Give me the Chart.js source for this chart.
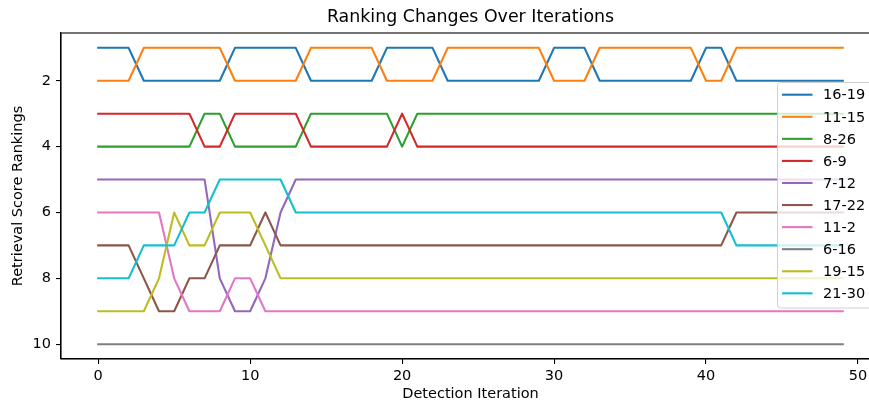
<!DOCTYPE html>
<html>
<head>
<meta charset="utf-8">
<title>Ranking Changes Over Iterations</title>
<script src="https://cdn.jsdelivr.net/npm/chart.js@4.4.0/dist/chart.umd.min.js"></script>
<style>
  html, body { margin: 0; padding: 0; background: #fff; overflow: hidden; }
  canvas { display: block; }
</style>
</head>
<body>
<canvas id="chart" width="941" height="402"></canvas>
<script>
// Detection iterations (x axis)
const iterations = [0,1,2,3,4,5,6,7,8,9,10,11,12,13,14,15,16,17,18,19,20,21,22,23,24,25,26,27,28,29,30,31,32,33,34,35,36,37,38,39,40,41,42,43,44,45,46,47,48,49];

// Pair labels
const pairLabels = ['16-19', '11-15', '8-26', '6-9', '7-12', '17-22', '11-2', '6-16', '19-15', '21-30'];

// Ranking of each pair at every iteration
const rank_16_19 = [1,1,1,2,2,2,2,2,2,1,1,1,1,1,2,2,2,2,2,1,1,1,1,2,2,2,2,2,2,2,1,1,1,2,2,2,2,2,2,2,1,1,2,2,2,2,2,2,2,2];
const rank_11_15 = [2,2,2,1,1,1,1,1,1,2,2,2,2,2,1,1,1,1,1,2,2,2,2,1,1,1,1,1,1,1,2,2,2,1,1,1,1,1,1,1,2,2,1,1,1,1,1,1,1,1];
const rank_8_26  = [4,4,4,4,4,4,4,3,3,4,4,4,4,4,3,3,3,3,3,3,4,3,3,3,3,3,3,3,3,3,3,3,3,3,3,3,3,3,3,3,3,3,3,3,3,3,3,3,3,3];
const rank_6_9   = [3,3,3,3,3,3,3,4,4,3,3,3,3,3,4,4,4,4,4,4,3,4,4,4,4,4,4,4,4,4,4,4,4,4,4,4,4,4,4,4,4,4,4,4,4,4,4,4,4,4];
const rank_7_12  = [5,5,5,5,5,5,5,5,8,9,9,8,6,5,5,5,5,5,5,5,5,5,5,5,5,5,5,5,5,5,5,5,5,5,5,5,5,5,5,5,5,5,5,5,5,5,5,5,5,5];
const rank_17_22 = [7,7,7,8,9,9,8,8,7,7,7,6,7,7,7,7,7,7,7,7,7,7,7,7,7,7,7,7,7,7,7,7,7,7,7,7,7,7,7,7,7,7,6,6,6,6,6,6,6,6];
const rank_11_2  = [6,6,6,6,6,8,9,9,9,8,8,9,9,9,9,9,9,9,9,9,9,9,9,9,9,9,9,9,9,9,9,9,9,9,9,9,9,9,9,9,9,9,9,9,9,9,9,9,9,9];
const rank_6_16  = [10,10,10,10,10,10,10,10,10,10,10,10,10,10,10,10,10,10,10,10,10,10,10,10,10,10,10,10,10,10,10,10,10,10,10,10,10,10,10,10,10,10,10,10,10,10,10,10,10,10];
const rank_19_15 = [9,9,9,9,8,6,7,7,6,6,6,7,8,8,8,8,8,8,8,8,8,8,8,8,8,8,8,8,8,8,8,8,8,8,8,8,8,8,8,8,8,8,8,8,8,8,8,8,8,8];
const rank_21_30 = [8,8,8,7,7,7,6,6,5,5,5,5,5,6,6,6,6,6,6,6,6,6,6,6,6,6,6,6,6,6,6,6,6,6,6,6,6,6,6,6,6,6,7,7,7,7,7,7,7,7];

const rankSeries = [rank_16_19, rank_11_15, rank_8_26, rank_6_9, rank_7_12, rank_17_22, rank_11_2, rank_6_16, rank_19_15, rank_21_30];

// Axis tick values
const xTicks = [0, 10, 20, 30, 40, 50];
const yTicks = [2, 4, 6, 8, 10];

const chartTitle = 'Ranking Changes Over Iterations';

const palette = ['#1f77b4', '#ff7f0e', '#2ca02c', '#d62728', '#9467bd', '#8c564b', '#e377c2', '#7f7f7f', '#bcbd22', '#17becf'];

const FONT = 'DejaVu Sans';
const TEXT_SIZE = 14.5;
const TITLE_SIZE = 17.4;
Chart.defaults.font.family = FONT;
Chart.defaults.color = '#000';

const datasets = rankSeries.map((series, i) => ({
  label: pairLabels[i],
  data: series.map((r, k) => ({ x: iterations[k], y: r })),
  borderColor: palette[i],
  backgroundColor: palette[i],
  borderWidth: 2.1,
  pointRadius: 0,
  pointHoverRadius: 0,
  tension: 0,
  fill: false,
  borderJoinStyle: 'round',
  borderCapStyle: 'square',
  order: rankSeries.length - i   // later series drawn on top
}));

// Frame around the plotting area, plus a title centred over it
const framePlugin = {
  id: 'frame',
  afterDatasetsDraw(chart) {
    const { ctx, chartArea: a } = chart;
    ctx.save();
    ctx.strokeStyle = '#000';
    ctx.lineWidth = 1.1;
    ctx.strokeRect(a.left, a.top, a.right - a.left, a.bottom - a.top);
    ctx.font = TITLE_SIZE + 'px "' + FONT + '"';
    ctx.fillStyle = '#000';
    ctx.textAlign = 'center';
    ctx.textBaseline = 'middle';
    ctx.fillText(chartTitle, (a.left + a.right) / 2, 17.5);
    ctx.restore();
  }
};

// Boxed legend placed inside the plot on the right
const boxLegendPlugin = {
  id: 'boxLegend',
  afterDraw(chart) {
    const { ctx } = chart;
    const ds = chart.data.datasets;
    const left = 777.5, top = 82.5, width = 96, rowH = 22.07;
    const height = 225.5;
    ctx.save();
    ctx.beginPath();
    const r = 3;
    ctx.moveTo(left + r, top);
    ctx.lineTo(left + width - r, top);
    ctx.arcTo(left + width, top, left + width, top + r, r);
    ctx.lineTo(left + width, top + height - r);
    ctx.arcTo(left + width, top + height, left + width - r, top + height, r);
    ctx.lineTo(left + r, top + height);
    ctx.arcTo(left, top + height, left, top + height - r, r);
    ctx.lineTo(left, top + r);
    ctx.arcTo(left, top, left + r, top, r);
    ctx.closePath();
    ctx.fillStyle = 'rgba(255,255,255,0.8)';
    ctx.fill();
    ctx.strokeStyle = 'rgba(204,204,204,0.9)';
    ctx.lineWidth = 1;
    ctx.stroke();

    ctx.font = TEXT_SIZE + 'px "' + FONT + '"';
    ctx.textBaseline = 'middle';
    ctx.textAlign = 'left';
    ds.forEach((d, i) => {
      const y = 94.7 + i * rowH;
      ctx.strokeStyle = d.borderColor;
      ctx.lineWidth = 2.1;
      ctx.beginPath();
      ctx.moveTo(782, y);
      ctx.lineTo(812.5, y);
      ctx.stroke();
      ctx.fillStyle = '#000';
      ctx.fillText(d.label, 823, y + 1);
    });
    ctx.restore();
  }
};

new Chart(document.getElementById('chart'), {
  type: 'line',
  data: { datasets },
  plugins: [framePlugin, boxLegendPlugin],
  options: {
    responsive: false,
    animation: false,
    devicePixelRatio: 1,
    layout: { padding: { left: 0, right: 61, top: 33, bottom: 0 } },
    plugins: {
      legend: { display: false },
      tooltip: { enabled: false },
      title: { display: false }
    },
    scales: {
      x: {
        type: 'linear',
        min: -2.45,
        max: 51.45,
        afterBuildTicks(scale) { scale.ticks = xTicks.map(v => ({ value: v })); },
        afterFit(scale) { scale.height = 43; },
        ticks: {
          color: '#000',
          font: { family: FONT, size: TEXT_SIZE },
          padding: 4,
          maxRotation: 0,
          autoSkip: false
        },
        grid: { drawOnChartArea: false, drawTicks: true, tickLength: 5, color: '#000', lineWidth: 1.1 },
        border: { display: true, color: '#000', width: 1.1 },
        title: {
          display: true,
          text: 'Detection Iteration',
          color: '#000',
          font: { family: FONT, size: TEXT_SIZE, lineHeight: 1.2 },
          padding: { top: 0, bottom: -1 }
        }
      },
      y: {
        type: 'linear',
        reverse: true,
        min: 0.55,
        max: 10.45,
        afterBuildTicks(scale) { scale.ticks = yTicks.map(v => ({ value: v })); },
        afterFit(scale) { scale.width = 61; },
        ticks: {
          color: '#000',
          font: { family: FONT, size: TEXT_SIZE },
          padding: 5,
          autoSkip: false
        },
        grid: { drawOnChartArea: false, drawTicks: true, tickLength: 5, color: '#000', lineWidth: 1.1 },
        border: { display: true, color: '#000', width: 1.1 },
        title: {
          display: true,
          text: 'Retrieval Score Rankings',
          color: '#000',
          font: { family: FONT, size: TEXT_SIZE, lineHeight: 1.2 },
          padding: { top: 9.3, bottom: 0 }
        }
      }
    }
  }
});
</script>
</body>
</html>
